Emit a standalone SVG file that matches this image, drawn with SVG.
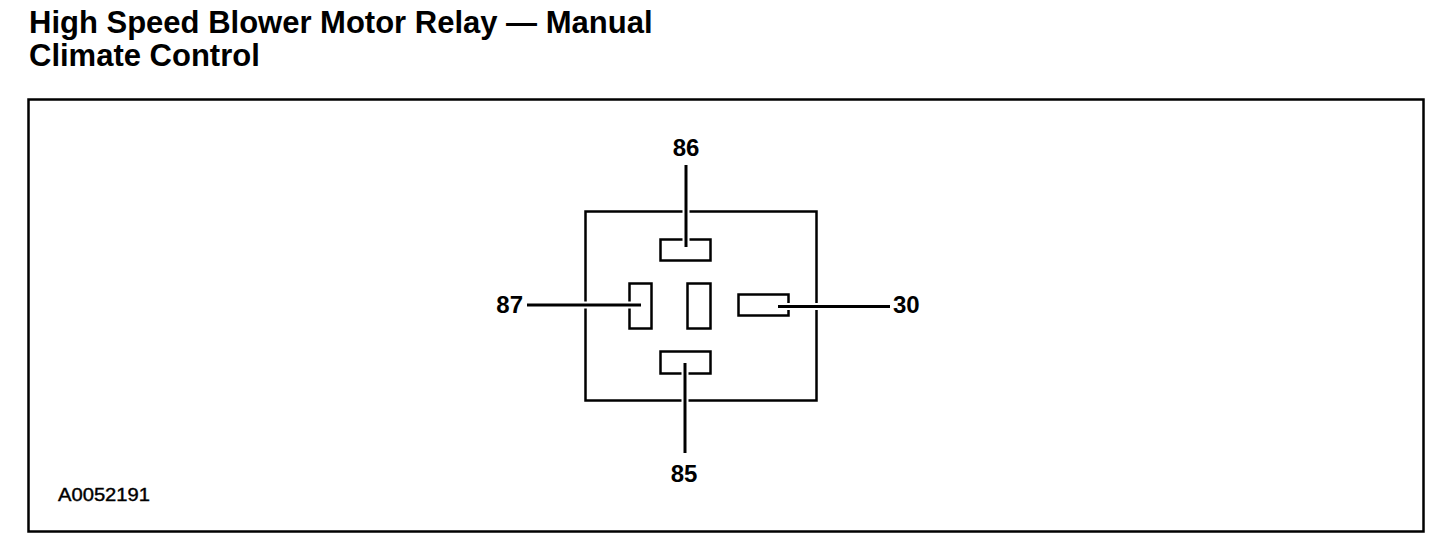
<svg xmlns="http://www.w3.org/2000/svg" width="1456" height="550" viewBox="0 0 1456 550">
<style>
.title{font-family:"Liberation Sans",Arial,sans-serif;font-weight:bold;font-size:31px;fill:#000}
.lbl{font-family:"Liberation Sans",Arial,sans-serif;font-weight:bold;font-size:24px;fill:#000}
.ref{font-family:"Liberation Sans",Arial,sans-serif;font-size:18px;fill:#000;stroke:#000;stroke-width:0.4}
.frame{fill:none;stroke:#000;stroke-width:2.5}
.shape{fill:#fff;stroke:#000;stroke-width:2.5}
.halo{fill:none;stroke:#fff;stroke-width:7;stroke-linecap:butt}
.lead{fill:none;stroke:#000;stroke-width:3;stroke-linecap:butt}
</style>
<rect width="1456" height="550" fill="#fff"/>
<text class="title" x="29" y="33">High Speed Blower Motor Relay — Manual</text>
<text class="title" x="29" y="66">Climate Control</text>
<rect class="frame" x="28.5" y="99.5" width="1395" height="432"/>
<text class="ref" x="58" y="501" textLength="92" lengthAdjust="spacingAndGlyphs">A0052191</text>
<g id="relay">
<rect class="shape" x="585.5" y="211.5" width="231" height="189"/>
</g>
<g id="pin86"><rect class="shape" x="660.5" y="239.5" width="50" height="21"/></g>
<g id="pin87"><rect class="shape" x="629.5" y="283.5" width="22" height="45"/></g>
<g id="pinMid"><rect class="shape" x="687.5" y="283.5" width="23" height="45"/></g>
<g id="pin30"><rect class="shape" x="738.5" y="294.5" width="50" height="21"/></g>
<g id="pin85"><rect class="shape" x="660.5" y="351.5" width="50" height="22"/></g>
<g id="connectors">
<line class="halo" x1="686" y1="166" x2="686" y2="246"/>
<line class="lead" x1="686" y1="165" x2="686" y2="247"/>
<line class="halo" x1="528" y1="305" x2="641" y2="305"/>
<line class="lead" x1="527" y1="305" x2="641" y2="305"/>
<line class="halo" x1="778" y1="306.5" x2="890" y2="306.5"/>
<line class="lead" x1="778" y1="306.5" x2="890" y2="306.5"/>
<line class="halo" x1="685" y1="364" x2="685" y2="452"/>
<line class="lead" x1="685" y1="363" x2="685" y2="453"/>
</g>
<g id="labels">
<text class="lbl" x="686" y="156" text-anchor="middle">86</text>
<text class="lbl" x="684" y="482" text-anchor="middle">85</text>
<text class="lbl" x="523" y="313" text-anchor="end">87</text>
<text class="lbl" x="893" y="313">30</text>
</g>
</svg>
